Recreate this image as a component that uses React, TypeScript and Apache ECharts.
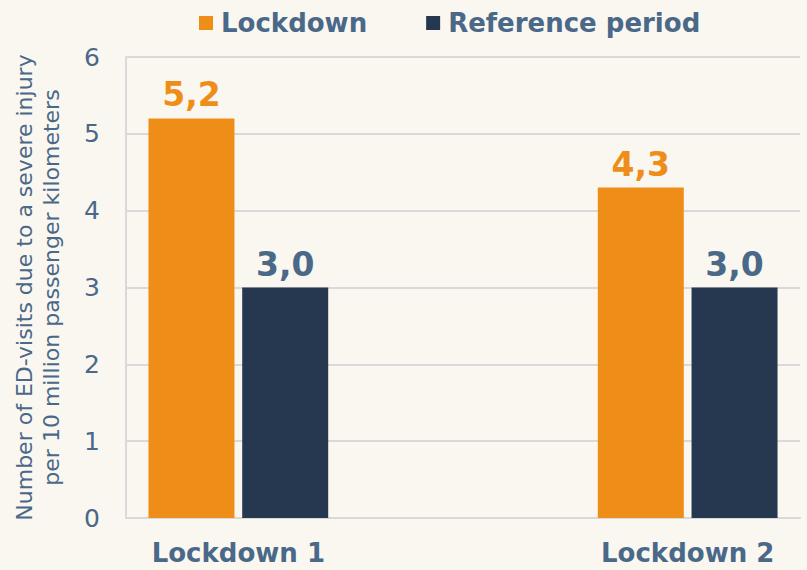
import React, { useEffect, useRef } from "react";
import * as echarts from "echarts";

const categories = ["Lockdown 1", "", "Lockdown 2"];
const lockdownValues = [5.2, null, 4.3];
const referenceValues = [3.0, null, 3.0];
const yTicks = [0, 1, 2, 3, 4, 5, 6];

const TEXT = "#4A6888";
const ORANGE = "#EF8D19";
const NAVY = "#26384F";
const FONT = "'DejaVu Sans', Verdana, sans-serif";

const fmt = (p: any) => (p.value == null ? "" : Number(p.value).toFixed(1).replace(".", ","));

export default function App() {
  const ref = useRef<HTMLDivElement>(null);
  useEffect(() => {
    document.body.style.margin = "0";
    if (!ref.current) return;
    const chart = echarts.init(ref.current, undefined, { renderer: "svg" });
    chart.setOption({
      animation: false,
      backgroundColor: "#FAF7F0",
      textStyle: { fontFamily: FONT },
      legend: {
        top: 10,
        left: 199,
        padding: 0,
        icon: "rect",
        itemWidth: 14,
        itemHeight: 14,
        itemGap: 59,
        textStyle: { color: TEXT, fontSize: 26, fontWeight: "bold", fontFamily: FONT, padding: [0, 0, 0, 3] },
        data: ["Lockdown", "Reference period"],
      },
      grid: { left: 126, right: 7, top: 57, bottom: 52 },
      xAxis: {
        type: "category",
        data: categories,
        axisLine: { show: true, lineStyle: { color: "#D9D9D9", width: 2 } },
        axisTick: { show: false },
        axisLabel: { color: TEXT, fontSize: 26, fontWeight: "bold", margin: 22, fontFamily: FONT },
      },
      yAxis: {
        type: "value",
        min: yTicks[0],
        max: yTicks[yTicks.length - 1],
        interval: 1,
        name: "Number of ED-visits due to a severe injury\nper 10 million passenger kilometers",
        nameLocation: "middle",
        nameGap: 61,
        nameTextStyle: { color: TEXT, fontSize: 22, lineHeight: 27, fontFamily: FONT },
        axisLine: { show: true, lineStyle: { color: "#D9D9D9", width: 2 } },
        axisTick: { show: false },
        axisLabel: { color: TEXT, fontSize: 25, margin: 26, fontFamily: FONT },
        splitLine: { lineStyle: { color: "#D9D9D9", width: 2 } },
      },
      series: [
        {
          name: "Lockdown",
          type: "bar",
          data: lockdownValues,
          barWidth: 86,
          barGap: "9%",
          itemStyle: { color: ORANGE },
          label: {
            show: true,
            position: "top",
            distance: 7,
            formatter: fmt,
            color: ORANGE,
            fontSize: 33,
            fontWeight: "bold",
            fontFamily: FONT,
          },
        },
        {
          name: "Reference period",
          type: "bar",
          data: referenceValues,
          barWidth: 86,
          barGap: "9%",
          itemStyle: { color: NAVY },
          label: {
            show: true,
            position: "top",
            distance: 7,
            formatter: fmt,
            color: TEXT,
            fontSize: 33,
            fontWeight: "bold",
            fontFamily: FONT,
          },
        },
      ],
    });
    return () => chart.dispose();
  }, []);
  return <div ref={ref} style={{ width: 807, height: 570 }} />;
}
